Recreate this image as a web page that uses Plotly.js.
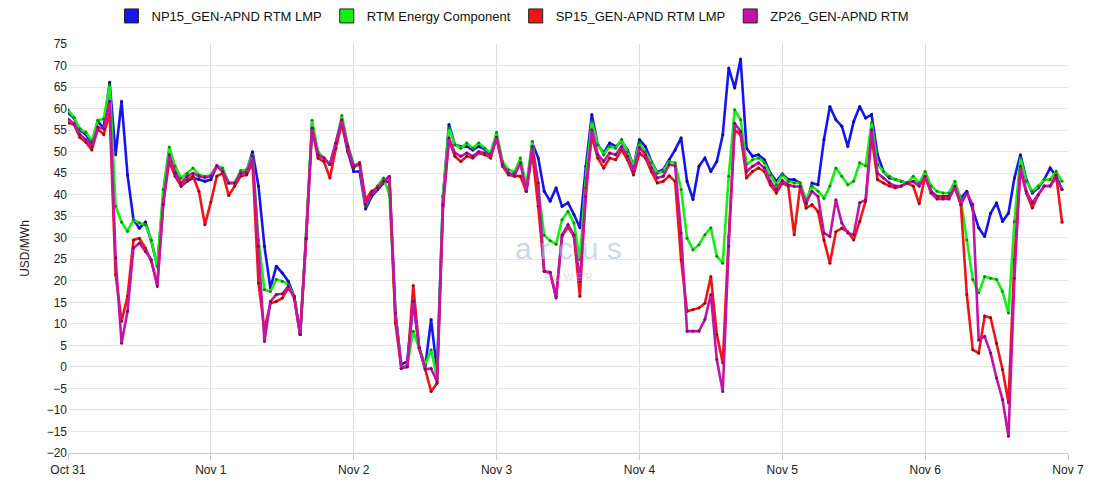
<!DOCTYPE html>
<html>
<head>
<meta charset="utf-8">
<script src="https://cdn.plot.ly/plotly-3.0.1.min.js"></script>
<style>html,body{margin:0;padding:0;background:#fff;}#chart{width:1100px;height:500px;}</style>
</head>
<body>
<div id="chart"></div>
<script>
// Hourly series starting Oct 31 00:00
const startTime = "2019-10-31T00:00:00";
const seriesNames = ["NP15_GEN-APND RTM LMP", "RTM Energy Component", "SP15_GEN-APND RTM LMP", "ZP26_GEN-APND RTM"];
const seriesColors = ["#1414f5", "#14f014", "#f01414", "#c414a8"];
const markerColors = ["#0a0a90", "#0a8a0a", "#900a0a", "#7a0a68"];

const np15 = [59.0,57.8,55.0,54.0,52.0,57.0,55.5,66.1,49.3,61.7,44.6,34.2,32.2,33.6,29.2,23.4,39.6,48.9,46.2,42.0,43.1,43.9,43.5,43.1,
43.5,46.7,45.4,42.7,42.7,45.0,45.4,50.0,42.0,28.0,18.3,23.4,21.8,19.9,16.4,7.5,30.0,56.3,49.3,48.5,47.0,52.0,56.6,50.0,
45.4,45.4,36.7,39.6,41.2,42.7,43.1,12.5,0.5,1.3,15.2,4.4,0.0,11.0,-1.0,39.6,56.3,51.6,51.2,51.2,50.4,51.2,50.6,49.3,
53.4,47.4,45.0,44.6,47.7,40.8,52.0,48.5,40.8,38.5,41.6,37.3,38.1,35.4,32.3,46.6,58.6,51.6,49.7,52.0,51.2,52.4,50.4,46.6,
52.8,51.2,47.7,45.2,45.8,48.1,50.4,53.2,43.1,38.9,46.6,48.5,45.4,47.7,53.9,69.4,64.8,71.5,50.8,48.9,49.3,48.1,45.0,43.1,
44.8,43.5,43.5,42.7,37.7,42.7,42.3,52.8,60.5,57.4,55.9,51.2,57.0,60.5,57.8,58.6,49.3,45.4,43.9,43.5,43.1,42.7,43.1,42.0,
45.0,40.8,39.6,39.6,39.6,42.0,39.2,40.8,36.5,32.3,30.3,35.7,38.1,33.8,35.7,43.9,49.3,43.5,40.4,41.6,43.5,46.2,44.3,41.2];

const rtmEnergy = [59.7,58.0,55.3,54.5,52.5,57.3,57.6,65.5,37.3,33.6,31.5,34.2,33.4,33.0,29.5,23.4,41.2,51.1,46.6,43.9,45.0,46.2,44.6,44.3,
44.5,46.7,46.2,42.7,42.7,45.6,45.8,49.3,29.5,17.9,17.5,20.3,19.9,19.1,16.4,7.5,30.9,57.3,50.0,48.5,47.0,52.0,58.4,51.6,
47.0,47.0,37.3,40.4,42.0,43.9,40.0,12.5,-0.3,0.5,8.3,4.4,0.5,4.0,-2.6,39.6,55.5,51.6,50.8,52.0,50.8,52.0,50.8,49.7,
54.5,47.7,45.8,45.2,48.5,42.0,52.4,42.0,30.6,29.3,28.5,34.2,36.1,33.4,24.9,43.9,57.0,51.6,49.3,51.2,50.8,52.8,50.0,46.6,
52.0,50.0,47.4,45.0,45.4,47.7,47.4,41.2,29.9,27.2,28.4,30.7,32.3,25.7,24.1,44.3,59.7,57.4,47.0,48.1,48.5,47.4,44.6,42.3,
44.6,43.1,42.7,42.7,38.8,42.0,40.8,39.2,42.0,46.2,44.3,42.3,43.1,47.4,46.7,56.8,47.0,45.4,44.3,43.5,43.1,42.7,44.3,42.7,
45.4,42.0,40.8,40.4,40.4,43.1,38.8,29.5,20.3,17.2,21.0,20.6,20.3,17.5,12.5,33.8,48.5,43.1,40.8,42.0,43.5,43.5,45.4,43.1];

const sp15 = [56.7,56.3,53.3,52.2,50.4,55.3,54.0,58.8,21.4,10.6,16.4,29.5,29.9,27.6,24.5,19.1,38.1,47.7,44.3,42.0,43.5,44.3,40.8,33.0,
38.3,44.3,45.0,39.8,42.0,44.3,44.6,47.4,19.5,8.6,14.8,15.2,16.0,18.3,16.4,7.5,29.8,55.5,48.5,47.7,43.9,50.8,56.6,50.4,
46.2,47.5,38.8,40.8,41.6,43.1,43.9,10.2,-0.3,0.2,18.9,4.4,-0.5,-5.7,-3.8,37.3,52.8,48.9,47.7,48.9,48.5,49.7,49.3,48.5,
53.2,46.6,44.6,44.3,44.3,40.8,49.7,37.3,22.2,21.8,16.4,30.3,32.6,30.3,16.4,41.6,53.6,48.5,46.2,48.5,48.1,50.4,48.1,44.6,
49.7,48.5,45.4,42.7,43.1,44.4,43.1,24.9,12.9,13.3,13.7,14.8,21.0,7.5,0.9,30.3,55.1,53.9,43.9,45.4,46.2,45.4,42.3,40.4,
42.7,42.0,30.7,42.0,36.9,37.7,36.1,29.5,24.1,31.4,32.2,31.4,29.5,33.8,38.5,53.6,43.5,42.7,42.0,41.6,42.0,42.7,42.0,37.9,
44.3,40.4,39.6,39.6,39.2,41.6,37.7,16.8,4.0,3.2,11.8,11.4,5.5,-0.6,-8.3,24.9,45.8,40.4,36.9,40.0,42.0,42.0,44.6,33.6];

const zp26 = [57.6,56.5,54.0,52.8,51.2,55.7,55.3,61.7,25.3,5.5,12.9,27.6,28.8,26.8,24.9,18.7,37.7,49.3,45.0,42.7,44.3,45.0,44.3,44.0,
44.3,46.7,45.4,42.7,42.7,45.0,45.0,48.9,28.0,5.9,15.2,16.8,17.0,18.7,16.0,7.5,29.8,55.5,49.3,48.5,47.0,52.0,57.4,51.2,
46.6,47.0,37.7,40.0,41.6,43.1,44.3,12.5,-0.3,0.0,15.2,4.4,-0.5,-0.4,-3.4,37.7,53.2,49.7,48.9,49.7,48.9,50.0,49.7,48.9,
53.4,47.0,45.0,44.4,47.4,40.8,51.2,42.7,22.2,22.0,16.0,30.7,33.0,30.7,19.9,39.6,55.1,49.3,47.7,49.7,49.3,51.2,48.9,45.4,
51.0,49.3,46.2,43.9,44.3,47.0,46.7,31.1,8.3,8.3,8.3,11.0,16.8,1.7,-5.7,28.0,56.6,54.7,45.4,46.6,47.4,46.2,43.1,41.2,
43.3,42.3,41.9,41.9,38.1,40.8,39.6,31.1,30.3,38.8,33.4,31.1,30.7,38.1,38.8,55.1,45.0,43.9,42.7,42.0,42.0,42.7,43.1,42.0,
44.3,40.4,39.0,39.0,39.0,42.0,37.7,40.4,37.7,6.3,7.1,3.2,-2.6,-7.6,-16.1,20.6,46.6,40.8,38.1,40.0,42.0,42.0,43.9,41.2];

const yTitle = "USD/MWh";
const xRange = ["2019-10-31 00:00", "2019-11-07 00:00"];
const yRange = [-20, 75];

function hourlyTimes(start, n) {
  const t0 = new Date(start + "Z").getTime();
  const out = [];
  for (let i = 0; i < n; i++) {
    const d = new Date(t0 + i * 3600000);
    out.push(d.toISOString().slice(0, 19).replace("T", " "));
  }
  return out;
}

const allSeries = [np15, rtmEnergy, sp15, zp26];
const traces = [];
allSeries.forEach((vals, k) => {
  traces.push({
    type: "scatter", mode: "lines+markers",
    x: hourlyTimes(startTime, vals.length), y: vals,
    name: seriesNames[k], showlegend: false,
    line: {color: seriesColors[k], width: 2.6},
    marker: {color: markerColors[k], size: 3},
    hoverinfo: "x+y+name"
  });
});
// legend swatches
allSeries.forEach((vals, k) => {
  traces.push({
    type: "scatter", mode: "markers", x: [null], y: [null],
    name: seriesNames[k], showlegend: true,
    marker: {symbol: "square", size: 14, color: seriesColors[k], line: {color: "#222", width: 1}}
  });
});

const layout = {
  width: 1100, height: 500,
  margin: {l: 68, r: 32, t: 44, b: 47},
  paper_bgcolor: "#fff", plot_bgcolor: "#fff",
  font: {family: "Liberation Sans, Arial, sans-serif", size: 12, color: "#222"},
  showlegend: true,
  legend: {orientation: "h", x: 0.445, xanchor: "center", y: 0.998, yanchor: "top",
           yref: "container", font: {size: 13, color: "#111"}, itemwidth: 30, tracegroupgap: 0},
  xaxis: {
    type: "date", range: xRange, dtick: 86400000, tick0: "2019-10-31",
    tickformat: "%b %-d", showgrid: true, gridcolor: "#dcdcdc", gridwidth: 1,
    showline: true, linecolor: "#c8c8c8", ticks: "outside", ticklen: 6, tickcolor: "#c8c8c8",
    tickfont: {size: 12, color: "#222"}, zeroline: false
  },
  yaxis: {
    range: yRange, dtick: 5, tick0: 0, showgrid: true, gridcolor: "#e6e6e6", gridwidth: 1,
    zeroline: false, showline: false, ticks: "", tickfont: {size: 12, color: "#222"},
    title: {text: yTitle, font: {size: 12, color: "#222"}, standoff: 14}
  },
  annotations: [
    {xref: "paper", yref: "paper", x: 0.5, y: 0.5, text: "a r c u s", showarrow: false,
     font: {size: 30, color: "rgba(165,190,222,0.6)", family: "Liberation Sans, Arial"}},
    {xref: "paper", yref: "paper", x: 0.5, y: 0.43, text: "P O W E R", showarrow: false,
     font: {size: 10, color: "rgba(170,185,205,0.45)", family: "Liberation Sans, Arial"}}
  ]
};

Plotly.newPlot("chart", traces, layout, {displayModeBar: false, staticPlot: true});
</script>
</body>
</html>
